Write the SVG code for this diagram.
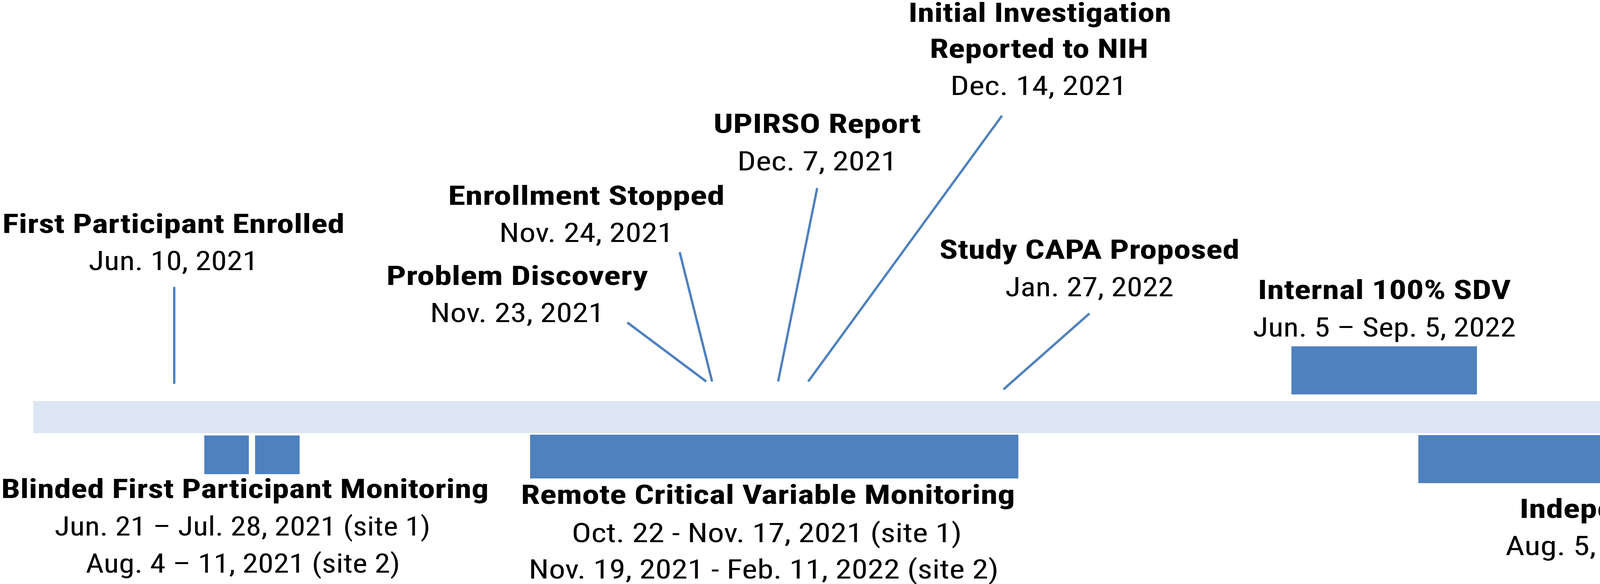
<svg xmlns="http://www.w3.org/2000/svg" width="5238" height="1494" viewBox="0 0 5238 1494">
<style>
text{font-family:"Liberation Sans Narrow","Roboto Condensed","Liberation Sans",sans-serif;font-size:68px;text-anchor:middle;fill:#000}
.b{font-weight:bold}
.blk{fill:#4F81BD}
line{stroke:#4F81BD;stroke-width:6}
</style>
<rect width="5238" height="1494" fill="#fff"/>
<g id="timeline"><polygon points="85,1026 5146,1026 5186,1067 5146,1108 85,1108" fill="#DCE6F2"/></g>
<g id="connectors">
<line x1="446" y1="734" x2="446" y2="982"/>
<line x1="1606" y1="825" x2="1808" y2="976"/>
<line x1="1740" y1="645" x2="1823" y2="976"/>
<line x1="2092" y1="481" x2="1992" y2="976"/>
<line x1="2565" y1="296" x2="2069" y2="976"/>
<line x1="2789" y1="802" x2="2569" y2="996"/>
<line x1="4996" y1="515" x2="4996" y2="993"/>
</g>
<g id="first"><text class="b" x="444" y="596" textLength="876" lengthAdjust="spacingAndGlyphs">First Participant Enrolled</text><text x="444" y="691" textLength="434" lengthAdjust="spacingAndGlyphs">Jun. 10, 2021</text></g>
<g id="problem"><text class="b" x="1324" y="729" textLength="670" lengthAdjust="spacingAndGlyphs">Problem Discovery</text><text x="1324" y="824" textLength="446" lengthAdjust="spacingAndGlyphs">Nov. 23, 2021</text></g>
<g id="enroll"><text class="b" x="1501" y="524" textLength="708" lengthAdjust="spacingAndGlyphs">Enrollment Stopped</text><text x="1501" y="619" textLength="446" lengthAdjust="spacingAndGlyphs">Nov. 24, 2021</text></g>
<g id="upirso"><text class="b" x="2092" y="340" textLength="531" lengthAdjust="spacingAndGlyphs">UPIRSO Report</text><text x="2092" y="436" textLength="409" lengthAdjust="spacingAndGlyphs">Dec. 7, 2021</text></g>
<g id="initial"><text class="b" x="2662" y="56" textLength="673" lengthAdjust="spacingAndGlyphs">Initial Investigation</text><text class="b" x="2660" y="148" textLength="560" lengthAdjust="spacingAndGlyphs">Reported to NIH</text><text x="2659" y="243" textLength="452" lengthAdjust="spacingAndGlyphs">Dec. 14, 2021</text></g>
<g id="capa"><text class="b" x="2789" y="662" textLength="768" lengthAdjust="spacingAndGlyphs">Study CAPA Proposed</text><text x="2789" y="758" textLength="431" lengthAdjust="spacingAndGlyphs">Jan. 27, 2022</text></g>
<g id="internal"><rect class="blk" x="3306" y="886" width="475" height="123"/><text class="b" x="3544" y="765" textLength="648" lengthAdjust="spacingAndGlyphs">Internal 100% SDV</text><text x="3544" y="861" textLength="673" lengthAdjust="spacingAndGlyphs">Jun. 5 – Sep. 5, 2022</text></g>
<g id="sdvrep"><text class="b" x="4984" y="374" textLength="471" lengthAdjust="spacingAndGlyphs">SDV Reported</text><text x="4992" y="470" textLength="456" lengthAdjust="spacingAndGlyphs">Dec. 11, 2022</text></g>
<g id="blinded"><rect class="blk" x="523" y="1114" width="114" height="99"/><rect class="blk" x="653" y="1114" width="114" height="99"/><text class="b" x="627" y="1274" textLength="1248" lengthAdjust="spacingAndGlyphs">Blinded First Participant Monitoring</text><text x="621" y="1370" textLength="962" lengthAdjust="spacingAndGlyphs">Jun. 21 – Jul. 28, 2021 (site 1)</text><text x="622" y="1465" textLength="805" lengthAdjust="spacingAndGlyphs">Aug. 4 – 11, 2021 (site 2)</text></g>
<g id="remote"><rect class="blk" x="1357" y="1112" width="1250" height="112"/><text class="b" x="1966" y="1289" textLength="1265" lengthAdjust="spacingAndGlyphs">Remote Critical Variable Monitoring</text><text x="1963" y="1387" textLength="999" lengthAdjust="spacingAndGlyphs">Oct. 22 - Nov. 17, 2021 (site 1)</text><text x="1955" y="1480" textLength="1203" lengthAdjust="spacingAndGlyphs">Nov. 19, 2021 - Feb. 11, 2022 (site 2)</text></g>
<g id="independent"><rect class="blk" x="3631" y="1113" width="1255" height="123"/><text class="b" x="4302" y="1325" textLength="824" lengthAdjust="spacingAndGlyphs">Independent 100% SDV</text><text x="4302" y="1420" textLength="896" lengthAdjust="spacingAndGlyphs">Aug. 5, 2022-Nov. 23, 2022</text></g>
</svg>
